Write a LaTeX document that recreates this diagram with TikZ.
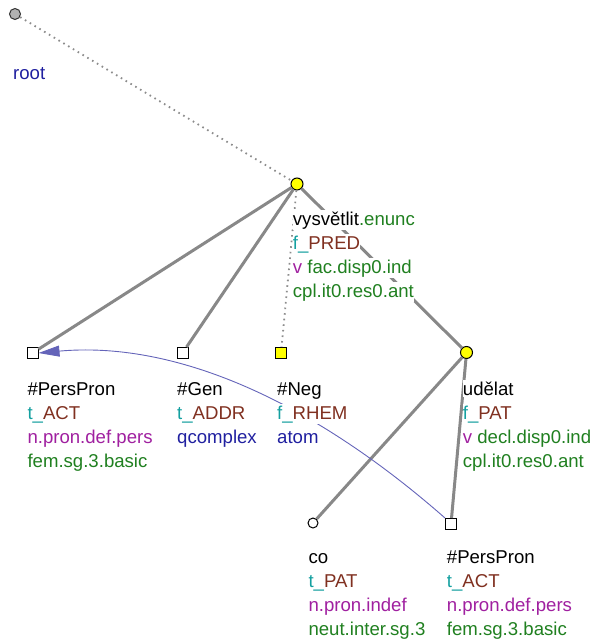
\documentclass[tikz,border=0pt]{standalone}
\usepackage{fontspec}
\setmainfont{Liberation Sans}
\usetikzlibrary{arrows.meta}
\definecolor{cteal}{RGB}{20,160,160}
\definecolor{cbrown}{RGB}{128,48,32}
\definecolor{cpurple}{RGB}{160,32,160}
\definecolor{cgreen}{RGB}{32,128,32}
\definecolor{cblue}{RGB}{32,32,160}
\definecolor{cedge}{RGB}{136,136,136}
\definecolor{cdot}{RGB}{140,140,140}
\definecolor{ccoref}{RGB}{100,100,185}
\definecolor{cyel}{RGB}{255,255,0}
\newcommand{\tl}[2]{{\color{cteal}#1\_}{\color{cbrown}#2}}
\begin{document}
\begin{tikzpicture}[x=1pt,y=-1pt,
  lab/.style={anchor=base west, fill=white, inner xsep=0pt, inner ysep=1.5pt,
    font=\fontsize{18.6}{24}\selectfont},
  circnode/.style={circle, draw=black, line width=1pt, minimum size=11pt, inner sep=0pt, fill=white},
  yelcirc/.style={circnode, fill=cyel, minimum size=12pt},
  rootnode/.style={circnode, fill=gray!60, draw=black!80},
  sqnode/.style={rectangle, draw=black, line width=1pt, minimum size=11pt, inner sep=0pt, fill=white},
  yelsq/.style={sqnode, fill=cyel},
  edge/.style={draw=cedge, line width=3pt},
  dotedge/.style={draw=cdot, line width=1.8pt, dash pattern=on 1.6pt off 4pt},
  coref/.style={draw=ccoref, line width=0.9pt, -{Triangle[length=21pt,width=11pt]}}
]
\useasboundingbox (0,0) rectangle (594,644);
% node shapes
\node[rootnode] (root) at (15,14) {};
\node[yelcirc] (vys) at (297,184) {};
\node[sqnode] (pp1) at (32.5,353) {};
\node[sqnode] (gen) at (182.5,353) {};
\node[yelsq] (neg) at (281,353) {};
\node[yelcirc] (ude) at (466.5,352.5) {};
\node[circnode, minimum size=10pt] (co) at (313,523) {};
\node[sqnode] (pp2) at (451,524) {};
% edges
\draw[dotedge] (root) -- (vys);
\draw[edge] (vys) -- (pp1);
\draw[edge] (vys) -- (gen);
\draw[dotedge] (vys) -- (neg);
\draw[edge] (vys) -- (ude);
\draw[edge] (ude) -- (co);
\draw[edge] (ude) -- (pp2);
\draw[coref] (pp2.north west) .. controls (306,396) and (171,341) .. (pp1.east);
% labels
\node[lab] (lroot) at (13,80) {\color{cblue}root};
\node[lab] (v1) at (292.7,225) {vysvětlit{\color{cgreen}.enunc}};
\node[lab] (v2) at (292.7,249) {\tl{f}{PRED}};
\node[lab] (v3) at (292.7,273) {{\color{cpurple}v} {\color{cgreen}fac.disp0.ind}};
\node[lab] (v4) at (292.7,297) {\color{cgreen}cpl.it0.res0.ant};
\node[lab] (p1) at (27.3,395) {\#PersPron};
\node[lab] (p2) at (27.3,419) {\tl{t}{ACT}};
\node[lab] (p3) at (27.3,443) {\color{cpurple}n.pron.def.pers};
\node[lab] (p4) at (27.3,467) {\color{cgreen}fem.sg.3.basic};
\node[lab] (g1) at (177,395) {\#Gen};
\node[lab] (g2) at (177,419) {\tl{t}{ADDR}};
\node[lab] (g3) at (177,443) {\color{cblue}qcomplex};
\node[lab] (n1) at (277,395) {\#Neg};
\node[lab] (n2) at (277,419) {\tl{f}{RHEM}};
\node[lab] (n3) at (277,443) {\color{cblue}atom};
\node[lab] (u1) at (462.7,395) {udělat};
\node[lab] (u2) at (462.7,419) {\tl{f}{PAT}};
\node[lab] (u3) at (462.7,443) {{\color{cpurple}v} {\color{cgreen}decl.disp0.ind}};
\node[lab] (u4) at (462.7,467) {\color{cgreen}cpl.it0.res0.ant};
\node[lab] (c1) at (308.3,563) {co};
\node[lab] (c2) at (308.3,587) {\tl{t}{PAT}};
\node[lab] (c3) at (308.3,611) {\color{cpurple}n.pron.indef};
\node[lab] (c4) at (308.3,635) {\color{cgreen}neut.inter.sg.3};
\node[lab] (q1) at (446.7,563) {\#PersPron};
\node[lab] (q2) at (446.7,587) {\tl{t}{ACT}};
\node[lab] (q3) at (446.7,611) {\color{cpurple}n.pron.def.pers};
\node[lab] (q4) at (446.7,635) {\color{cgreen}fem.sg.3.basic};
\end{tikzpicture}
\end{document}
